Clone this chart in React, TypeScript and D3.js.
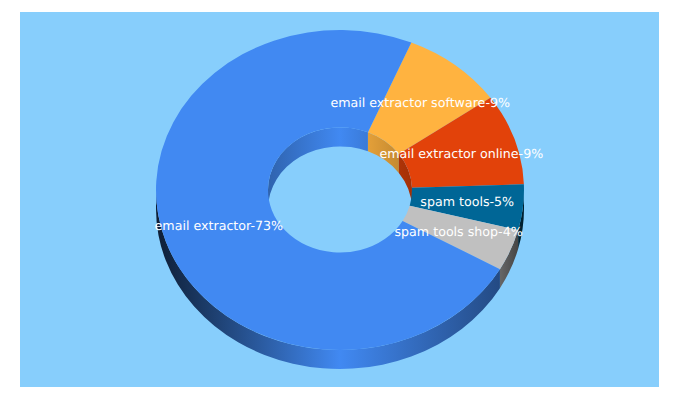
import React from "react";
import * as d3 from "d3";

const categories = ["email extractor software", "email extractor online", "spam tools", "spam tools shop", "email extractor"];
const labelPercents = [9, 9, 5, 4, 73];
const shares = [8.9, 9.2, 4.6, 4.2, 73.1];
const colors = ["#ffb340", "#e2420a", "#006696", "#c0c0c0", "#4189f2"];

const W = 680, H = 400;
const PLOT = { x: 20, y: 12, w: 639, h: 375 };
const BG = "#87cefc";
const CX = 340, CY = 190, RX = 184, RY = 160, IRX = 72, DEPTH = 19;
const YS = RY / RX;
const START = (22.8 * Math.PI) / 180;
const TAU = Math.PI * 2;

const outerShade: [number, number][] = [[0, 0.22], [0.15, 0.45], [0.5, 1], [0.93, 0.55], [1, 0.3]];
const innerShade: [number, number][] = [[0, 0.72], [0.5, 1], [1, 0.72]];

const shade = (c: string, k: number) => {
  const r = d3.rgb(c);
  return d3.rgb(r.r * k, r.g * k, r.b * k).formatHex();
};

const pt = (a: number, r: number, dy = 0): [number, number] => [
  CX + r * Math.sin(a),
  CY - r * YS * Math.cos(a) + dy,
];

function band(a0: number, a1: number, r: number) {
  const [x0, y0] = pt(a0, r);
  const [x1, y1] = pt(a1, r);
  const ry = r * YS;
  const large = a1 - a0 > Math.PI ? 1 : 0;
  return `M${x0},${y0}A${r},${ry} 0 ${large} 1 ${x1},${y1}L${x1},${y1 + DEPTH}A${r},${ry} 0 ${large} 0 ${x0},${y0 + DEPTH}Z`;
}

// intersection of [a0,a1] with a visible window, trying whole-turn offsets
function clipAngles(a0: number, a1: number, lo: number, hi: number): [number, number][] {
  const out: [number, number][] = [];
  for (const k of [-1, 0, 1]) {
    const s = Math.max(a0, lo + k * TAU);
    const e = Math.min(a1, hi + k * TAU);
    if (e > s) out.push([s, e]);
  }
  return out;
}

export default function App() {
  const pie = d3.pie<number>().sort(null).startAngle(START).endAngle(START + TAU);
  const arcs = pie(shares);
  const arc = d3.arc<d3.PieArcDatum<number>>().innerRadius(IRX).outerRadius(RX);

  return (
    <svg width={W} height={H} style={{ position: "absolute", left: 0, top: 0, display: "block" }}>
      <defs>
        {colors.map((c, i) => (
          <React.Fragment key={i}>
            <linearGradient id={`o${i}`} gradientUnits="userSpaceOnUse" x1={CX - RX} x2={CX + RX} y1={0} y2={0}>
              {outerShade.map(([t, k]) => <stop key={t} offset={t} stopColor={shade(c, k)} />)}
            </linearGradient>
            <linearGradient id={`i${i}`} gradientUnits="userSpaceOnUse" x1={CX - IRX} x2={CX + IRX} y1={0} y2={0}>
              {innerShade.map(([t, k]) => <stop key={t} offset={t} stopColor={shade(c, k)} />)}
            </linearGradient>
          </React.Fragment>
        ))}
      </defs>
      <rect x={PLOT.x} y={PLOT.y} width={PLOT.w} height={PLOT.h} fill={BG} />
      {arcs.map((d, i) =>
        clipAngles(d.startAngle, d.endAngle, -Math.PI / 2, Math.PI / 2).map(([s, e], j) => (
          <path key={`in${i}-${j}`} d={band(s, e, IRX)} fill={`url(#i${i})`} />
        ))
      )}
      {arcs.map((d, i) =>
        clipAngles(d.startAngle, d.endAngle, Math.PI / 2, (3 * Math.PI) / 2).map(([s, e], j) => (
          <path key={`out${i}-${j}`} d={band(s, e, RX)} fill={`url(#o${i})`} />
        ))
      )}
      <g transform={`translate(${CX},${CY}) scale(1,${YS})`}>
        {arcs.map((d, i) => (
          <path key={i} d={arc(d) ?? ""} fill={colors[i]} />
        ))}
      </g>
      {arcs.map((d, i) => {
        const [x, y] = arc.centroid(d);
        return (
          <text
            key={i}
            x={CX + x}
            y={CY + y * YS}
            dy="0.29em"
            textAnchor="middle"
            fill="#ffffff"
            fontFamily="'DejaVu Sans', sans-serif"
            fontSize={12.65}
            textRendering="geometricPrecision"
          >
            {`${categories[i]}-${labelPercents[i]}%`}
          </text>
        );
      })}
    </svg>
  );
}
